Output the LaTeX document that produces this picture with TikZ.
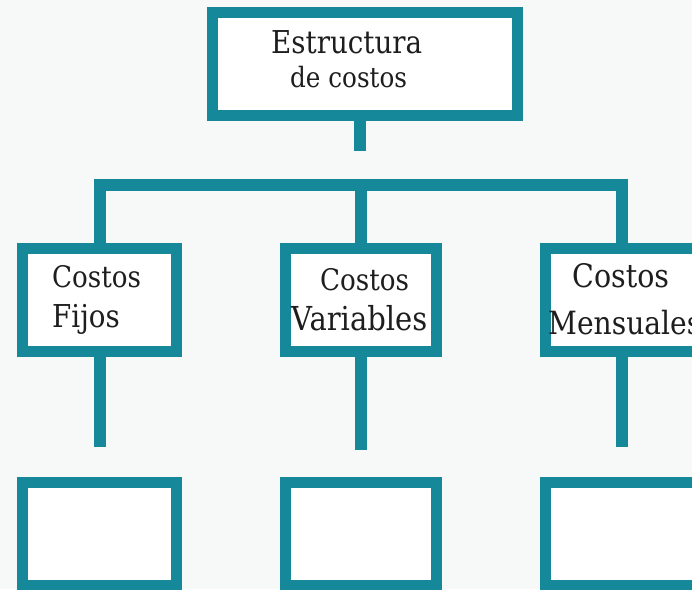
\documentclass[tikz,border=0pt]{standalone}
\usepackage{fontspec}
\setmainfont{DejaVu Serif}[FakeStretch=0.88]
\definecolor{tealc}{HTML}{15899A}
\definecolor{bgc}{HTML}{F7F8F8}
\definecolor{inkc}{HTML}{1E1E1E}
\begin{document}
\begin{tikzpicture}[x=1pt,y=-1pt,
  boxnode/.style={draw=tealc, line width=11pt, fill=white, inner sep=0pt,
    minimum width=154pt, minimum height=103pt},
  conn/.style={draw=tealc, line width=12pt, line join=miter},
  txt/.style={inner sep=0pt, anchor=base west, text=inkc}]
\useasboundingbox (0,0) rectangle (692,589);
\fill[bgc] (0,0) rectangle (692,589);
\clip (0,0) rectangle (692,589);
% coordinates
\coordinate (barM) at (361,185);
\coordinate (stubT) at (360,151);
\coordinate (endL) at (99.5,447);
\coordinate (endM) at (361,450);
\coordinate (endR) at (622,447);
% box positions
\path (365,64) coordinate (ptop) (99.5,300) coordinate (pfijos)
      (361,300) coordinate (pvari) (622,300) coordinate (pmens)
      (99.5,534) coordinate (pbL) (361,534) coordinate (pbM) (622,534) coordinate (pbR);
% connectors (drawn first, boxes cover their ends)
\path (ptop) node[boxnode, minimum width=305pt, draw=none, fill=none] (top) {}
      (pfijos) node[boxnode, draw=none, fill=none] (fijos) {}
      (pvari) node[boxnode, minimum width=151pt, draw=none, fill=none] (vari) {}
      (pmens) node[boxnode, draw=none, fill=none] (mens) {};
\draw[conn] (top.south -| stubT) -- (stubT);
\draw[conn] (fijos.north) |- (barM) -| (mens.north);
\draw[conn] (barM) -- (vari.north);
\draw[conn] (fijos.south) -- (endL);
\draw[conn] (vari.south) -- (endM);
\draw[conn] (mens.south) -- (endR);
% boxes
\node[boxnode, minimum width=305pt] (topbox) at (ptop) {};
\node[boxnode] (fijosbox) at (pfijos) {};
\node[boxnode, minimum width=151pt] (varibox) at (pvari) {};
\node[boxnode] (mensbox) at (pmens) {};
\node[boxnode] (bL) at (pbL) {};
\node[boxnode, minimum width=151pt] (bM) at (pbM) {};
\node[boxnode] (bR) at (pbR) {};
% texts
\node[txt, font=\fontsize{31.5}{36}\selectfont] (t1) at (271,53) {Estructura};
\node[txt, font=\fontsize{28}{32}\selectfont] (t2) at (290,87) {de costos};
\node[txt, font=\fontsize{29.7}{34}\selectfont] (t3) at (52,287) {Costos};
\node[txt, font=\fontsize{31.5}{36}\selectfont] (t4) at (52,327) {Fijos};
\node[txt, font=\fontsize{29.7}{34}\selectfont] (t5) at (320,290) {Costos};
\node[txt, font=\fontsize{33}{38}\selectfont] (t6) at (291,330) {Variables};
\node[txt, font=\fontsize{32.4}{37}\selectfont] (t7) at (572,287) {Costos};
\node[txt, font=\fontsize{32}{37}\selectfont] (t8) at (548,334) {Mensuales};
\end{tikzpicture}
\end{document}
